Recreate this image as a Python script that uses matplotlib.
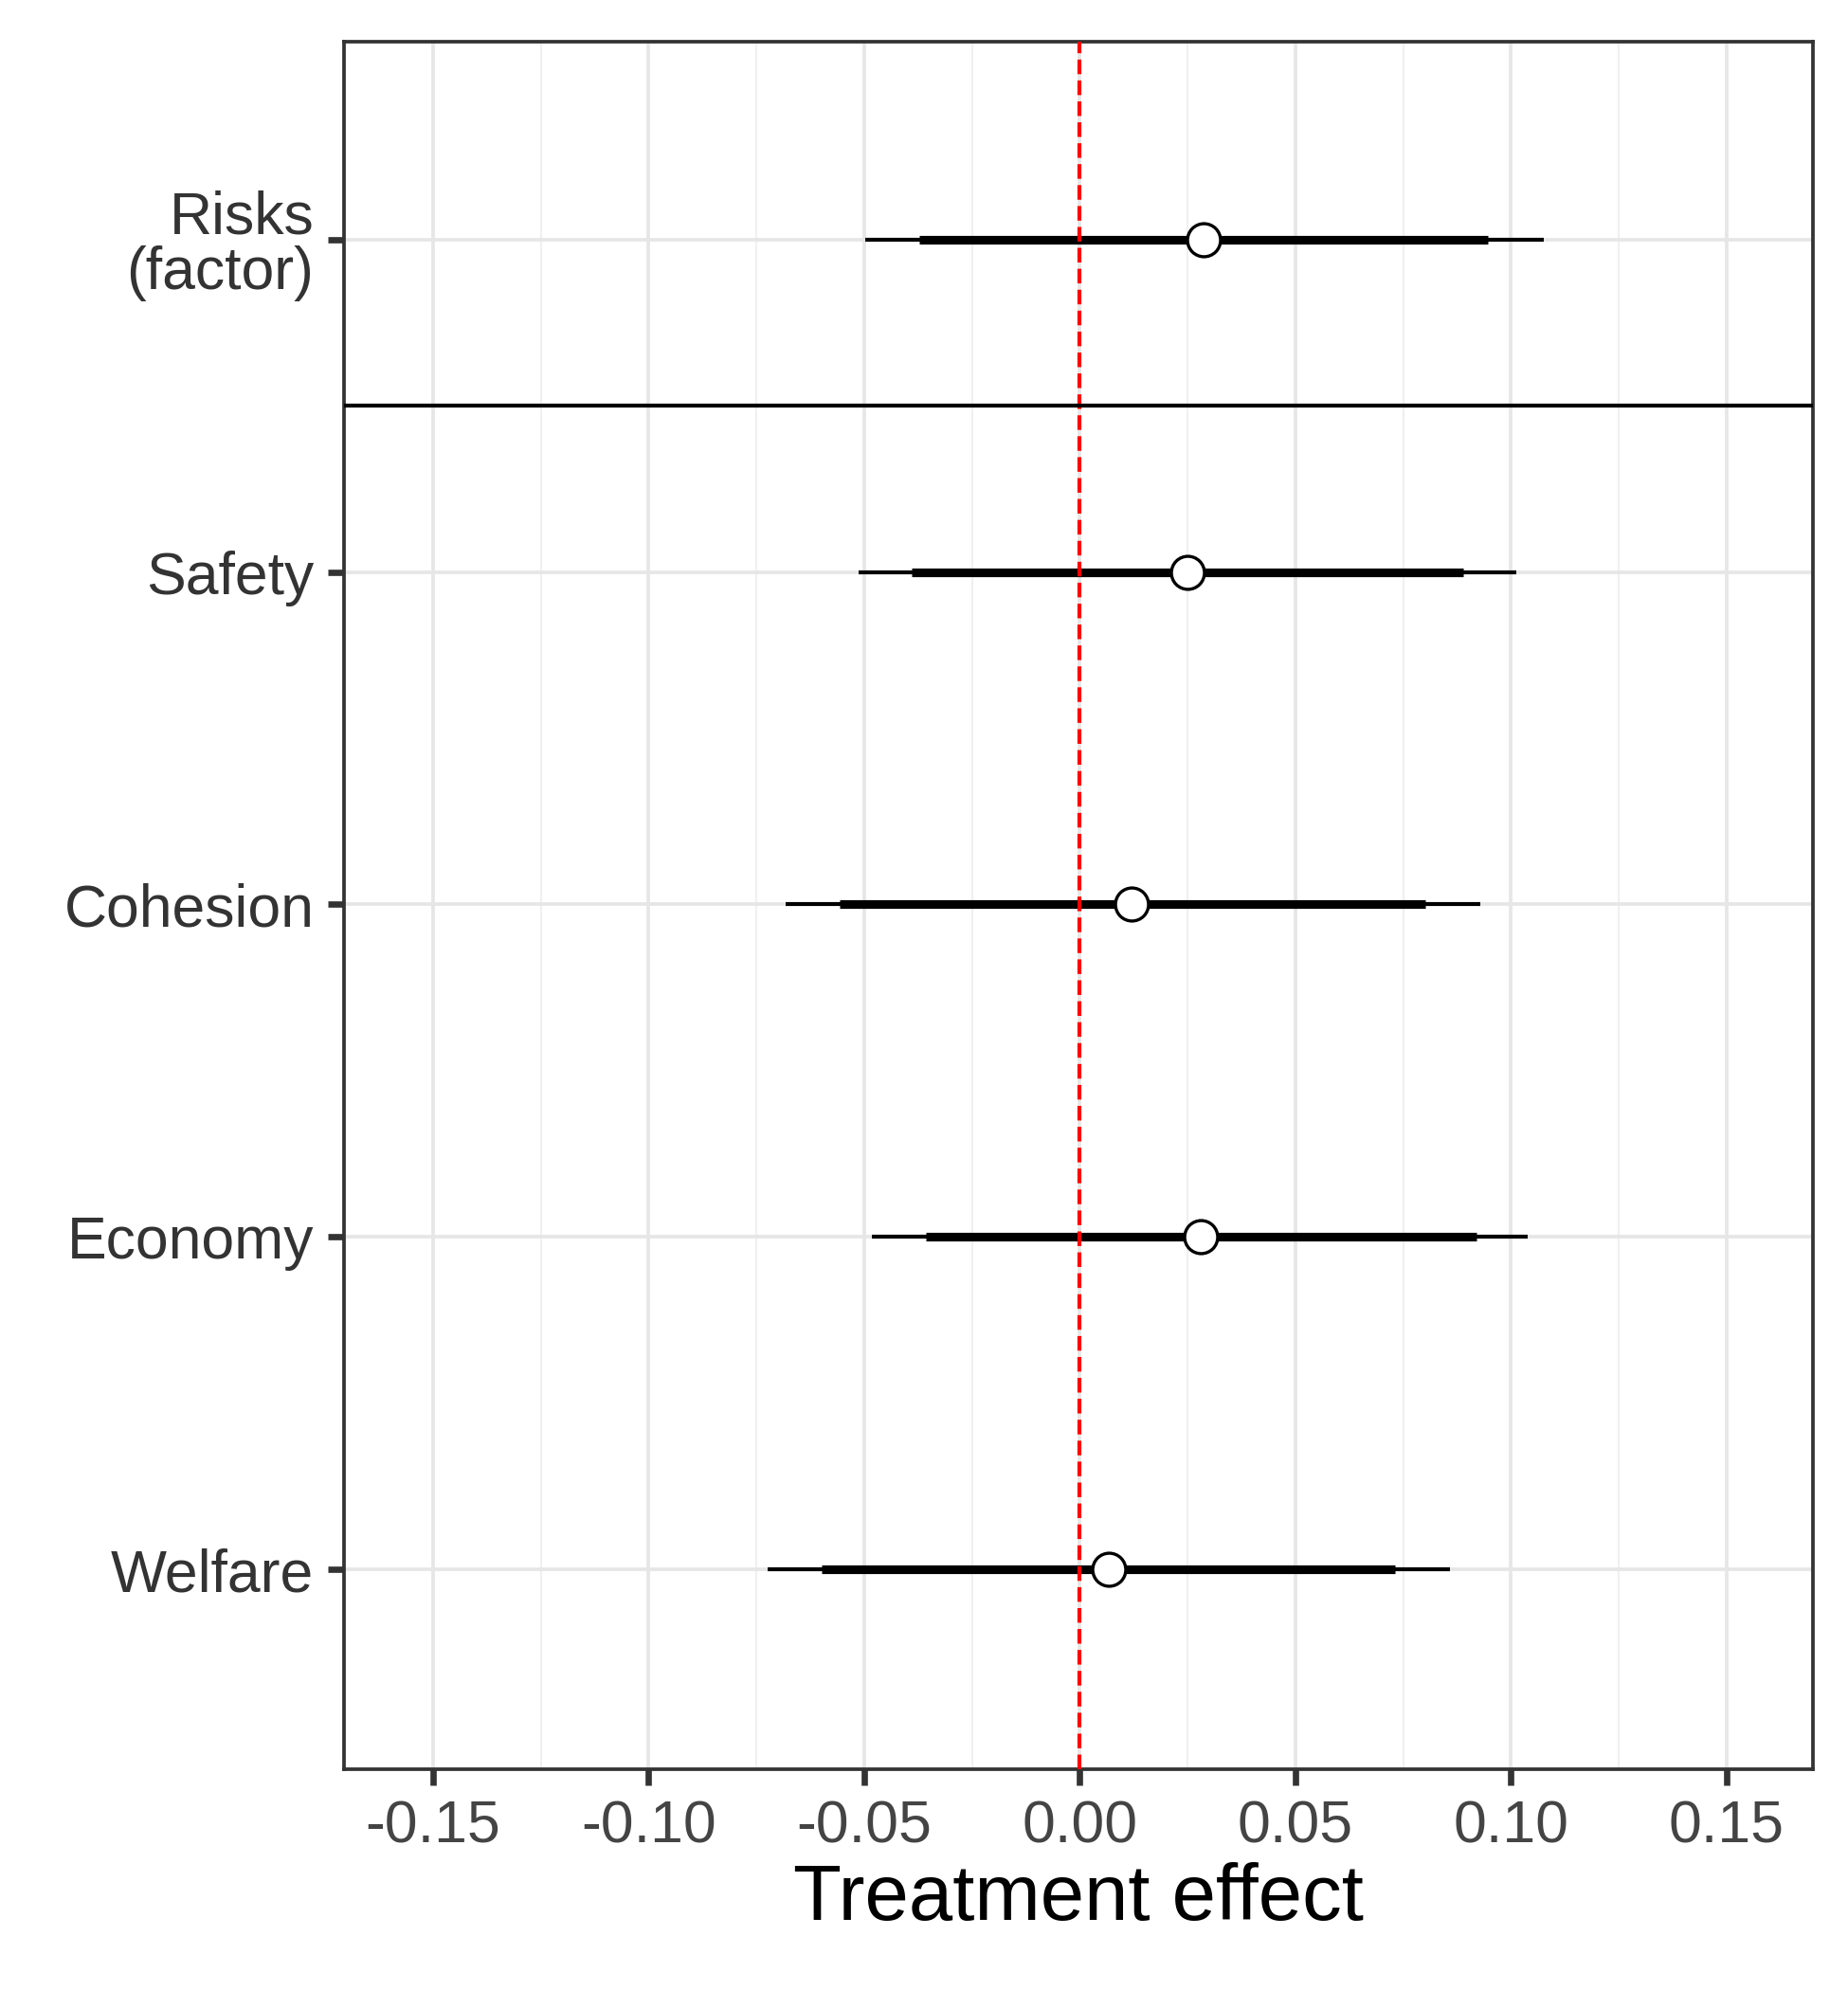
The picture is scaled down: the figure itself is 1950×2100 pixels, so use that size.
import matplotlib
matplotlib.use("Agg")
import matplotlib.pyplot as plt

plt.rcParams['font.family'] = ['Liberation Sans', 'DejaVu Sans']

labels = ["Welfare", "Economy", "Cohesion", "Safety", "Risks\n(factor)"]
est = [0.0068, 0.0281, 0.0121, 0.0249, 0.0287]
lo95 = [-0.0725, -0.0482, -0.0683, -0.0512, -0.0497]
hi95 = [0.0858, 0.1038, 0.0929, 0.1012, 0.1077]
lo90 = [-0.0598, -0.0358, -0.0556, -0.0390, -0.0373]
hi90 = [0.0731, 0.0920, 0.0802, 0.0890, 0.0947]
xticks = [-0.15, -0.10, -0.05, 0.00, 0.05, 0.10, 0.15]

fig = plt.figure(figsize=(6.5, 7), dpi=300)
ax = fig.add_axes([0.186, 0.111, 0.795, 0.868])
ypos = list(range(1, len(labels) + 1))

ax.set_xlim(-0.1707, 0.170)
ax.set_ylim(0.4, 5.594)
ax.set_xticks(xticks)
ax.set_xticklabels([f"{t:.2f}" for t in xticks])
ax.set_xticks([-0.125, -0.075, -0.025, 0.025, 0.075, 0.125], minor=True)
ax.set_yticks(ypos)
ax.set_yticklabels(labels, linespacing=1.0)
ax.grid(True, which='major', color='#e6e6e6', lw=0.9, zorder=0)
ax.grid(True, which='minor', axis='x', color='#f0f0f0', lw=0.5, zorder=0)
ax.set_axisbelow(True)

ax.hlines(ypos, lo95, hi95, color='black', lw=1.0, zorder=2)
ax.hlines(ypos, lo90, hi90, color='black', lw=2.2, zorder=2)
ax.axvline(0, color='red', ls='--', lw=1.0, zorder=3)
ax.scatter(est, ypos, s=70, facecolor='white', edgecolor='black', lw=0.8, zorder=4)
ax.axhline(4.5, color='black', lw=1.0, zorder=3)

for s in ax.spines.values():
    s.set_color('#333333'); s.set_linewidth(0.9)
ax.tick_params(axis='both', which='major', labelsize=15, colors='#333333', length=4, width=1.6)
ax.tick_params(axis='x', which='minor', length=0)
ax.tick_params(axis='x', labelcolor='#444444')
ax.tick_params(axis='y', labelcolor='#333333')
ax.set_xlabel("Treatment effect", fontsize=20, labelpad=2)
fig.savefig("out.png", dpi=300)
